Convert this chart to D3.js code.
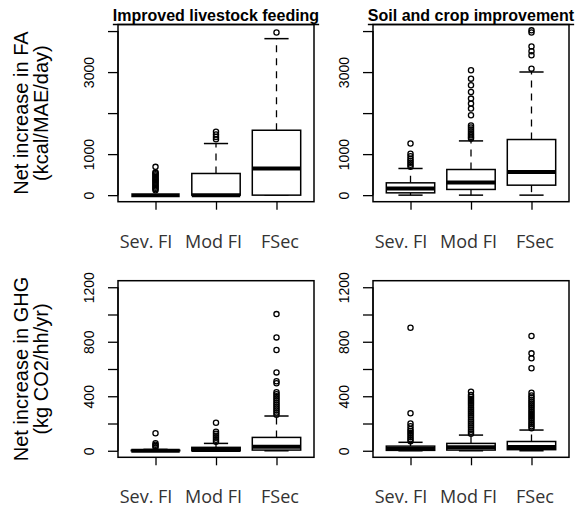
<!DOCTYPE html>
<html>
<head>
<meta charset="utf-8">
<script src="https://cdn.jsdelivr.net/npm/d3@7"></script>
<style>
  html, body { margin: 0; padding: 0; background: #fff; }
  svg { display: block; }
</style>
</head>
<body>
<svg id="chart" width="577" height="511"></svg>
<script>
// ---------------- DATA ----------------
const categories = ["Sev. FI", "Mod FI", "FSec"];
const panelTitles = ["Improved livestock feeding", "Soil and crop improvement"];
const rowTitles = [["Net increase in FA", "(kcal/MAE/day)"], ["Net increase in GHG", "(kg CO2/hh/yr)"]];

const faTicks = [0, 1000, 2000, 3000, 4000];
const faTickLabels = ["0", "1000", "", "3000", ""];
const faLimits = [0, 4000];
const ghgTicks = [0, 200, 400, 600, 800, 1000, 1200];
const ghgTickLabels = ["0", "", "400", "", "800", "", "1200"];
const ghgLimits = [0, 1200];

// five-number summaries per category: [lower whisker, Q1, median, Q3, upper whisker]
const faLivestockStats = [[0, 0, 0, 0, 0], [0, 0, 0, 528, 1258], [0, 0, 650, 1582, 3815]];
const faLivestockOutliers = [
  [120, 150, 180, 210, 240, 270, 300, 330, 360, 390, 420, 450, 480, 510, 540, 560, 690],
  [1360, 1420, 1480, 1545],
  [3965]
];
const faSoilStats = [[0, 56, 163, 300, 650], [0, 139, 309, 625, 1322], [0, 243, 567, 1356, 3002]];
const faSoilOutliers = [
  [690, 740, 790, 840, 890, 950, 1010, 1258],
  [1380, 1420, 1460, 1500, 1550, 1600, 1650, 1700, 1947, 2110, 2231, 2353, 2515, 2678, 2840, 3043],
  [3084, 3410, 3510, 3625, 3965, 4017]
];
const ghgLivestockStats = [[0, 0, 0, 4, 10], [0, 0, 5, 25, 54], [0, 5, 30, 98, 255]];
const ghgLivestockOutliers = [
  [25, 35, 45, 55, 128],
  [66, 80, 95, 110, 125, 139, 205],
  [265, 280, 295, 310, 325, 340, 355, 370, 385, 400, 415, 430, 495, 510, 575, 739, 832, 1003]
];
const ghgSoilStats = [[0, 3, 12, 34, 62], [0, 5, 25, 54, 115], [0, 8, 28, 68, 152]];
const ghgSoilOutliers = [
  [70, 85, 100, 115, 130, 145, 160, 180, 200, 275, 903],
  [125, 140, 155, 170, 185, 200, 215, 230, 245, 260, 275, 290, 305, 320, 335, 350, 365, 380, 395, 410, 433],
  [165, 180, 195, 210, 225, 240, 255, 270, 285, 300, 315, 330, 345, 360, 375, 390, 405, 426, 605, 678, 715, 842]
];

// ---------------- LAYOUT ----------------
const svg = d3.select("#chart");
const colX = [[118, 314], [373, 569]];
const rowY = [[24.5, 201.7], [280.7, 457.3]];
const labelShift = [-10, -3, 3];

const panels = [
  { row: 0, col: 0, stats: faLivestockStats, outliers: faLivestockOutliers, ticks: faTicks, labels: faTickLabels, lim: faLimits },
  { row: 0, col: 1, stats: faSoilStats, outliers: faSoilOutliers, ticks: faTicks, labels: faTickLabels, lim: faLimits },
  { row: 1, col: 0, stats: ghgLivestockStats, outliers: ghgLivestockOutliers, ticks: ghgTicks, labels: ghgTickLabels, lim: ghgLimits },
  { row: 1, col: 1, stats: ghgSoilStats, outliers: ghgSoilOutliers, ticks: ghgTicks, labels: ghgTickLabels, lim: ghgLimits }
];

panels.forEach(p => {
  const [x0, x1] = colX[p.col];
  const [yTop, yBot] = rowY[p.row];
  const pad = (p.lim[1] - p.lim[0]) * 0.04;
  const y = d3.scaleLinear().domain([p.lim[0] - pad, p.lim[1] + pad]).range([yBot, yTop]);
  const x = d3.scaleLinear().domain([0.5 - 0.12, 3.5 + 0.12]).range([x0, x1]);
  const bw = x(1.4) - x(0.6);
  const g = svg.append("g");

  p.stats.forEach((s, i) => {
    const cx = x(i + 1);
    const [lo, q1, med, q3, hi] = s;
    const bg = g.append("g");
    bg.append("line").attr("x1", cx).attr("x2", cx).attr("y1", y(q3)).attr("y2", y(hi))
      .attr("stroke", "#000").attr("stroke-width", 1.3).attr("stroke-dasharray", "7,6");
    bg.append("line").attr("x1", cx).attr("x2", cx).attr("y1", y(q1)).attr("y2", y(lo))
      .attr("stroke", "#000").attr("stroke-width", 1.3).attr("stroke-dasharray", "7,6");
    [lo, hi].forEach(v => {
      bg.append("line").attr("x1", cx - bw / 4).attr("x2", cx + bw / 4).attr("y1", y(v)).attr("y2", y(v))
        .attr("stroke", "#000").attr("stroke-width", 1.5);
    });
    bg.append("rect").attr("x", cx - bw / 2).attr("width", bw)
      .attr("y", y(q3)).attr("height", Math.max(0, y(q1) - y(q3)))
      .attr("fill", "#fff").attr("stroke", "#000").attr("stroke-width", 1.5);
    bg.append("line").attr("x1", cx - bw / 2).attr("x2", cx + bw / 2).attr("y1", y(med)).attr("y2", y(med))
      .attr("stroke", "#000").attr("stroke-width", 4);
    bg.selectAll("circle").data(p.outliers[i]).join("circle")
      .attr("cx", cx).attr("cy", d => y(d)).attr("r", 2.6)
      .attr("fill", "none").attr("stroke", "#000").attr("stroke-width", 1.3);
  });

  g.append("rect").attr("x", x0).attr("y", yTop).attr("width", x1 - x0).attr("height", yBot - yTop)
    .attr("fill", "none").attr("stroke", "#000").attr("stroke-width", 1.5);

  const ya = g.append("g").attr("transform", `translate(${x0},0)`)
    .call(d3.axisLeft(y).tickValues(p.ticks).tickSize(10).tickSizeOuter(0)
      .tickFormat((d, i) => p.labels[i]));
  ya.select(".domain").attr("d", `M0,${y(p.ticks[0])}V${y(p.ticks[p.ticks.length - 1])}`)
    .attr("stroke-width", 1.3);
  ya.selectAll(".tick line").attr("stroke-width", 1.3);
  ya.selectAll(".tick text")
    .attr("x", null).attr("dy", null)
    .attr("transform", "translate(-24,0) rotate(-90)")
    .attr("text-anchor", "middle")
    .attr("fill", "#000")
    .style("font-family", "'Liberation Sans', Arial, sans-serif")
    .style("font-size", "14px");

  const xa = g.append("g").attr("transform", `translate(0,${yBot})`)
    .call(d3.axisBottom(x).tickValues([1, 2, 3]).tickSize(8).tickSizeOuter(0)
      .tickFormat((d, i) => categories[i]));
  xa.select(".domain").remove();
  xa.selectAll(".tick line").attr("stroke-width", 1.3);
  xa.selectAll(".tick text")
    .attr("y", 46).attr("dy", null)
    .attr("x", (d, i) => labelShift[i])
    .attr("fill", "#333")
    .style("font-family", "'Open Sans', 'Noto Sans', sans-serif")
    .style("font-size", "18px");

  if (p.row === 0) {
    const t = svg.append("text")
      .attr("x", (x0 + x1) / 2).attr("y", 20.5)
      .attr("text-anchor", "middle")
      .style("font-family", "'Liberation Sans', Arial, sans-serif")
      .style("font-size", "16px").style("font-weight", "bold")
      .text(panelTitles[p.col]);
    const w = t.node().getComputedTextLength();
    svg.append("line").attr("x1", (x0 + x1) / 2 - w / 2).attr("x2", (x0 + x1) / 2 + w / 2)
      .attr("y1", yTop).attr("y2", yTop).attr("stroke", "#000").attr("stroke-width", 1.5);
  }

  if (p.col === 0) {
    const cy = (yTop + yBot) / 2;
    const lines = rowTitles[p.row];
    [28, 48].forEach((bx, k) => {
      svg.append("text")
        .attr("transform", `translate(${bx},${cy}) rotate(-90)`)
        .attr("text-anchor", "middle")
        .style("font-family", "'Liberation Sans', Arial, sans-serif")
        .style("font-size", "20px")
        .attr("fill", "#000")
        .text(lines[k]);
    });
  }
});
</script>
</body>
</html>
